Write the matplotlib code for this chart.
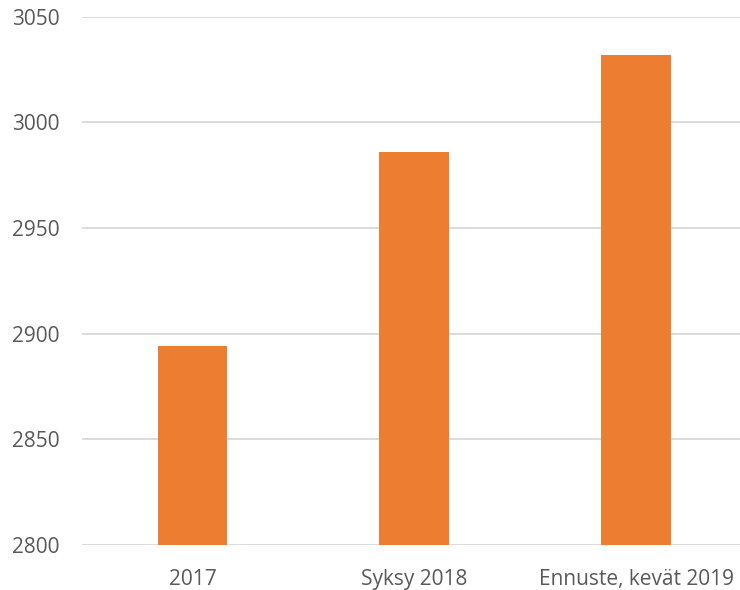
import matplotlib.pyplot as plt

# Values
categories = ['2017', 'Syksy 2018', 'Ennuste, kevät 2019']
values = [2894, 2986, 3032]
y_ticks = [2800, 2850, 2900, 2950, 3000, 3050]

plt.rcParams['font.family'] = ['Open Sans', 'DejaVu Sans']

fig = plt.figure(figsize=(7.4, 5.9), dpi=100)
# axes runs slightly past the right edge of the image, as in the original
ax = fig.add_axes([81.6 / 740, 45 / 590, 665.4 / 740, 528.3 / 590])

ax.bar(range(len(categories)), values, width=0.315, color='#ED7D31', zorder=3)
ax.set_ylim(2800, 3050)
ax.set_xlim(-0.5, len(categories) - 0.5)
ax.set_yticks(y_ticks)
ax.set_xticks(range(len(categories)))
ax.set_xticklabels(categories)

ax.grid(axis='y', color='#D9D9D9', linewidth=1.3, zorder=0)
for s in ax.spines.values():
    s.set_visible(False)
ax.tick_params(axis='both', length=0, labelsize=15, labelcolor='#595959')
ax.tick_params(axis='y', pad=16)
ax.tick_params(axis='x', pad=17)

fig.savefig('out.png', dpi=100)
